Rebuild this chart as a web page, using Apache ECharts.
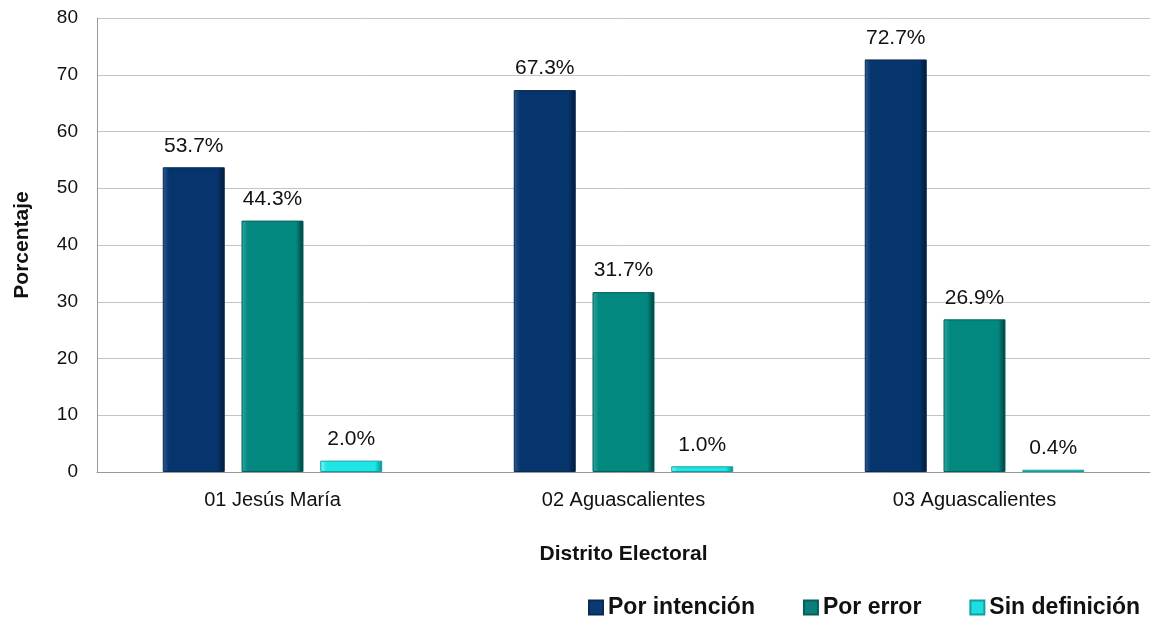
<!DOCTYPE html>
<html>
<head>
<meta charset="utf-8">
<script src="https://cdn.jsdelivr.net/npm/echarts@6/dist/echarts.min.js"></script>
<style>
  html, body { margin: 0; padding: 0; background: #fff; }
  #chart { width: 1156px; height: 621px; }
</style>
</head>
<body>
<div id="chart"></div>
<script>
const distritos = ["01 Jesús María", "02 Aguascalientes", "03 Aguascalientes"];
const porIntencion = [53.7, 67.3, 72.7];
const porError = [44.3, 31.7, 26.9];
const sinDefinicion = [2.0, 1.0, 0.4];
const yTicks = [0, 10, 20, 30, 40, 50, 60, 70, 80];

let myChart = echarts.init(document.getElementById("chart"));

// degradado horizontal para imitar el bisel
function bisel(claro, base, oscuro) {
  return new echarts.graphic.LinearGradient(0, 0, 1, 0, [
    { offset: 0, color: claro },
    { offset: 0.1, color: base },
    { offset: 0.88, color: base },
    { offset: 1, color: oscuro }
  ]);
}

function serie(nombre, datos, claro, base, oscuro, borde) {
  return {
    name: nombre,
    type: "bar",
    data: datos,
    barWidth: 62,
    barGap: "27%",
    itemStyle: {
      color: bisel(claro, base, oscuro),
      borderColor: borde,
      borderWidth: 1
    },
    label: {
      show: true,
      position: "top",
      distance: 11,
      formatter: (p) => p.value.toFixed(1) + "%",
      color: "#111",
      fontSize: 21,
      fontFamily: "Liberation Sans"
    }
  };
}

myChart.setOption({
  animation: false,
  textStyle: { fontFamily: "Liberation Sans" },
  grid: { left: 97, right: 6, top: 18, bottom: 149 },
  legend: {
    data: [
      { name: "Por intención", itemStyle: { color: "#0a3a74" } },
      { name: "Por error", itemStyle: { color: "#0b7f79" } },
      { name: "Sin definición", itemStyle: { color: "#20dede" } }
    ],
    left: 583,
    top: 591,
    icon: "rect",
    itemWidth: 14,
    itemHeight: 14,
    itemGap: 48,
    textStyle: { fontSize: 23, fontWeight: "bold", color: "#111", fontFamily: "Liberation Sans" }
  },
  xAxis: {
    type: "category",
    data: distritos,
    name: "Distrito Electoral",
    nameLocation: "middle",
    nameGap: 72,
    nameTextStyle: { fontSize: 21, fontWeight: "bold", color: "#111" },
    axisLine: { lineStyle: { color: "#999" } },
    axisTick: { show: false },
    axisLabel: { fontSize: 20, color: "#111", margin: 18 }
  },
  yAxis: {
    type: "value",
    min: yTicks[0],
    max: yTicks[yTicks.length - 1],
    interval: 10,
    name: "Porcentaje",
    nameLocation: "middle",
    nameGap: 64,
    nameTextStyle: { fontSize: 21, fontWeight: "bold", color: "#111" },
    axisLine: { show: true, lineStyle: { color: "#999" } },
    axisTick: { show: false },
    axisLabel: { fontSize: 19, color: "#111", margin: 19 },
    splitLine: { lineStyle: { color: "#c4c4c4" } }
  },
  series: [
    serie("Por intención", porIntencion, "#2a5a94", "#06346c", "#021a36", "#0a2a50"),
    serie("Por error", porError, "#2ca8a0", "#038880", "#023c3a", "#05605a"),
    serie("Sin definición", sinDefinicion, "#7ff6f6", "#1ee6e6", "#0a8c8c", "#10a0a0")
  ]
});
</script>
</body>
</html>
